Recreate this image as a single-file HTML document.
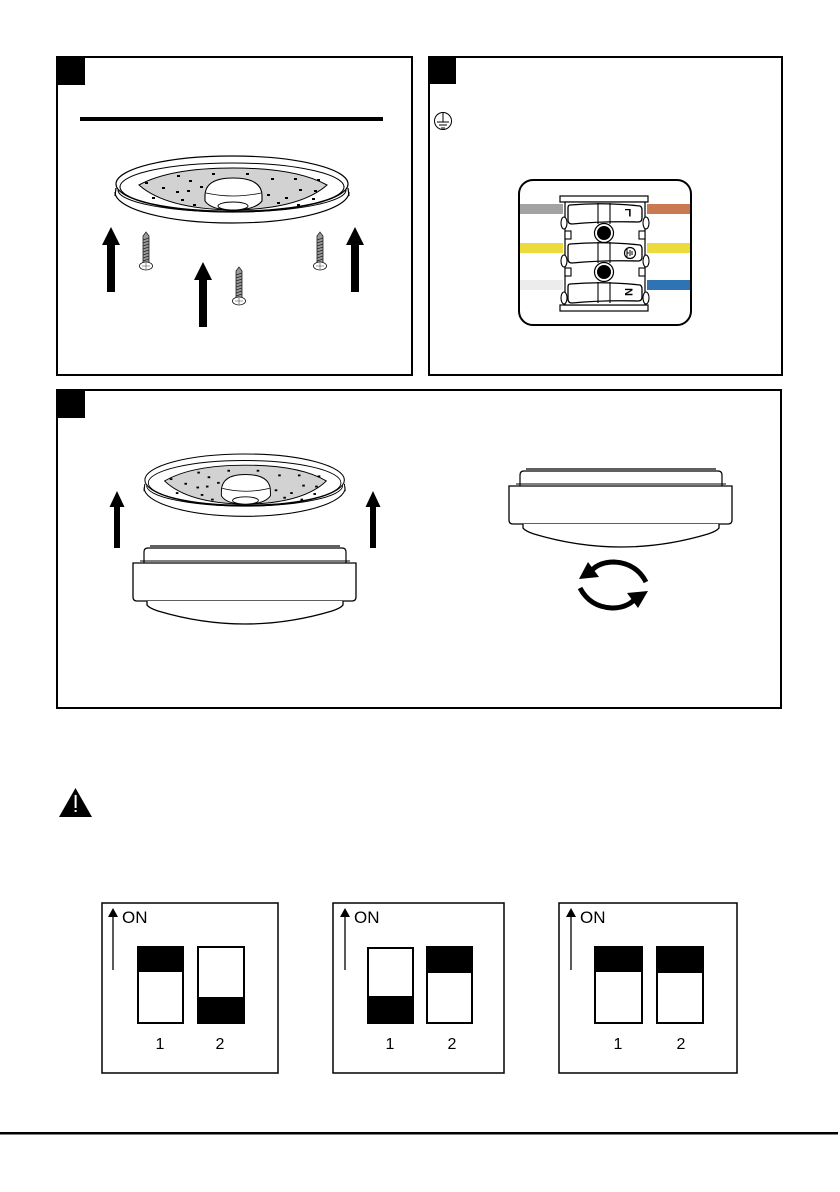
<!DOCTYPE html>
<html>
<head>
<meta charset="utf-8">
<style>
html,body{margin:0;padding:0;background:#fff;}
svg{display:block;}
text{font-family:"Liberation Sans",sans-serif;}
</style>
</head>
<body>
<svg width="840" height="1192" viewBox="0 0 840 1192" xmlns="http://www.w3.org/2000/svg">
<defs>
  <g id="disc">
    <!-- bottom outer rim -->
    <path d="M115,192 A117,31 0 0 0 349,192" fill="none" stroke="#000" stroke-width="1.2"/>
    <path d="M116,188 L115,196 M348,188 L349,196" stroke="#000" stroke-width="1.2"/>
    <!-- top rim ellipses -->
    <ellipse cx="232" cy="184" rx="116" ry="28" fill="#fff" stroke="#000" stroke-width="1.2"/>
    <ellipse cx="232" cy="187" rx="112" ry="24" fill="#fff" stroke="#000" stroke-width="1"/>
    <path d="M118,190 A114,22 0 0 0 346,190" fill="none" stroke="#000" stroke-width="1"/>
    <!-- gray plate -->
    <path d="M139,185 Q170,168 233,168 Q296,168 327,185 Q300,209 233,210 Q166,209 139,185 Z" fill="#d2d2d2" stroke="#000" stroke-width="1"/>
    <g fill="#000">
      <rect x="177" y="175" width="3" height="2"/><rect x="189" y="180" width="3" height="2"/>
      <rect x="212" y="173" width="3" height="2"/><rect x="246" y="173" width="3" height="2"/>
      <rect x="271" y="178" width="3" height="2"/><rect x="294" y="178" width="3" height="2"/>
      <rect x="317" y="179" width="3" height="2"/><rect x="145" y="182" width="3" height="2"/>
      <rect x="162" y="187" width="3" height="2"/><rect x="176" y="191" width="3" height="2"/>
      <rect x="187" y="190" width="3" height="2"/><rect x="152" y="197" width="3" height="2"/>
      <rect x="181" y="199" width="3" height="2"/><rect x="193" y="204" width="3" height="2"/>
      <rect x="267" y="194" width="3" height="2"/><rect x="277" y="202" width="3" height="2"/>
      <rect x="299" y="189" width="3" height="2"/><rect x="314" y="190" width="3" height="2"/>
      <rect x="285" y="197" width="3" height="2"/><rect x="297" y="204" width="3" height="2"/>
      <rect x="312" y="198" width="3" height="2"/><rect x="200" y="186" width="3" height="2"/>
    </g>
    <!-- dome -->
    <path d="M205,196 Q205,178 233,178 Q262,178 262,196 L262,201 Q255,210 233,210 Q211,210 205,201 Z" fill="#fff" stroke="#000" stroke-width="1.1"/>
    <path d="M206,193 Q233,199 261,193" fill="none" stroke="#000" stroke-width="0.8"/>
    <ellipse cx="233" cy="206" rx="15" ry="4" fill="#fff" stroke="#000" stroke-width="1"/>
  </g>
  <g id="screw">
    <path d="M-3,4 L0,0 L3,4 L3,31 L-3,31 Z" fill="#9a9a9a" stroke="#222" stroke-width="0.8"/>
    <g stroke="#222" stroke-width="0.7">
      <line x1="-3" y1="8" x2="3" y2="6"/><line x1="-3" y1="11" x2="3" y2="9"/>
      <line x1="-3" y1="14" x2="3" y2="12"/><line x1="-3" y1="17" x2="3" y2="15"/>
      <line x1="-3" y1="20" x2="3" y2="18"/><line x1="-3" y1="23" x2="3" y2="21"/>
      <line x1="-3" y1="26" x2="3" y2="24"/><line x1="-3" y1="29" x2="3" y2="27"/>
    </g>
    <ellipse cx="0" cy="34" rx="6.5" ry="4" fill="#fff" stroke="#000" stroke-width="0.8"/>
    <path d="M-4,34 L4,34 M0,31 L0,37" stroke="#444" stroke-width="0.6"/>
  </g>
  <g id="lamp">
    <line x1="150" y1="546" x2="340" y2="546" stroke="#000" stroke-width="1.2"/>
    <path d="M144,563 L144,552 Q144,548 148,548 L342,548 Q346,548 346,552 L346,563" fill="#fff" stroke="#000" stroke-width="1.2"/>
    <line x1="140" y1="561" x2="350" y2="561" stroke="#000" stroke-width="1"/>
    <path d="M133,563 L356,563 L356,597 Q356,601 352,601 L137,601 Q133,601 133,597 Z" fill="#fff" stroke="#000" stroke-width="1.3"/>
    <path d="M147,601 L147,605 Q149,608 158,611 Q245,637 332,611 Q341,608 343,605 L343,601" fill="#fff" stroke="#000" stroke-width="1.3"/>
  </g>
</defs>

<!-- Panel 1 -->
<rect x="57" y="57" width="355" height="318" fill="none" stroke="#000" stroke-width="2"/>
<rect x="57" y="57" width="28" height="28" fill="#000"/>
<rect x="80" y="117" width="303" height="4" fill="#000"/>
<use href="#disc"/>
<polygon points="111,227 120,245 115,245 115,292 107,292 107,245 102,245" fill="#000"/>
<polygon points="203,262 212,280 207,280 207,327 199,327 199,280 194,280" fill="#000"/>
<polygon points="355,227 364,245 359,245 359,292 351,292 351,245 346,245" fill="#000"/>
<use href="#screw" transform="translate(146,232)"/>
<use href="#screw" transform="translate(320,232)"/>
<use href="#screw" transform="translate(239,267)"/>

<!-- Panel 2 -->
<rect x="429" y="57" width="353" height="318" fill="none" stroke="#000" stroke-width="2"/>
<rect x="429" y="57" width="27" height="27" fill="#000"/>
<circle cx="443" cy="121" r="8.5" fill="#fff" stroke="#000" stroke-width="1"/>
<path d="M443,113 L443,122 M437,122 L449,122 M439,125 L447,125 M441,128 L445,128" stroke="#000" stroke-width="1"/>

<rect x="519" y="180" width="172" height="145" rx="14" fill="#fff" stroke="#000" stroke-width="2"/>
<rect x="520" y="204" width="43" height="10" fill="#a3a3a3"/>
<rect x="520" y="243" width="43" height="10" fill="#ecdb3c"/>
<rect x="520" y="280" width="43" height="10" fill="#ececec"/>
<rect x="647" y="204" width="43" height="10" fill="#c97a50"/>
<rect x="647" y="243" width="43" height="10" fill="#ecdb3c"/>
<rect x="647" y="280" width="43" height="10" fill="#2e74b5"/>
<!-- body -->
<rect x="560" y="196" width="88" height="6" fill="#fff" stroke="#000" stroke-width="1.2"/>
<rect x="560" y="305" width="88" height="6" fill="#fff" stroke="#000" stroke-width="1.2"/>
<rect x="565" y="202" width="80" height="103" fill="#fff" stroke="#000" stroke-width="1.2"/>
<g fill="#fff" stroke="#000" stroke-width="1.1">
  <ellipse cx="564" cy="223" rx="3" ry="6"/><ellipse cx="564" cy="261" rx="3" ry="6"/><ellipse cx="564" cy="298" rx="3" ry="6"/>
  <ellipse cx="646" cy="223" rx="3" ry="6"/><ellipse cx="646" cy="261" rx="3" ry="6"/><ellipse cx="646" cy="298" rx="3" ry="6"/>
  <rect x="565" y="231" width="6" height="8"/><rect x="565" y="268" width="6" height="8"/>
  <rect x="639" y="231" width="6" height="8"/><rect x="639" y="268" width="6" height="8"/>
</g>
<g fill="#fff" stroke="#000" stroke-width="1.3">
  <path d="M570,205 Q604,202 640,206 Q642,207 642,210 L642,218 Q642,222 638,222 Q604,221 572,224 Q568,224 568,220 L568,208 Q568,205 570,205 Z"/>
  <path d="M570,244 Q604,241 640,245 Q642,246 642,249 L642,257 Q642,261 638,261 Q604,260 572,263 Q568,263 568,259 L568,247 Q568,244 570,244 Z"/>
  <path d="M570,284 Q604,281 640,285 Q642,286 642,289 L642,297 Q642,301 638,301 Q604,300 572,303 Q568,303 568,299 L568,287 Q568,284 570,284 Z"/>
</g>
<g stroke="#000" stroke-width="1.1">
  <line x1="598" y1="203" x2="598" y2="224"/><line x1="610" y1="203" x2="610" y2="224"/>
  <line x1="598" y1="242" x2="598" y2="263"/><line x1="610" y1="242" x2="610" y2="263"/>
  <line x1="598" y1="282" x2="598" y2="303"/><line x1="610" y1="282" x2="610" y2="303"/>
</g>
<circle cx="604" cy="233" r="9.5" fill="#fff" stroke="#000" stroke-width="1.2"/>
<circle cx="604" cy="233" r="7" fill="#000"/>
<circle cx="604" cy="272" r="9.5" fill="#fff" stroke="#000" stroke-width="1.2"/>
<circle cx="604" cy="272" r="7" fill="#000"/>
<text x="628" y="212" font-size="11" font-weight="bold" text-anchor="middle" transform="rotate(180 628 212)" dominant-baseline="central">L</text>
<circle cx="630" cy="253" r="5.5" fill="#fff" stroke="#000" stroke-width="1.2"/>
<path d="M627,249 L627,257 M627,253 L629,253 M630,250 L630,256 M632,251 L632,255" stroke="#000" stroke-width="1"/>
<text x="628" y="292" font-size="11" font-weight="bold" text-anchor="middle" transform="rotate(90 628 292)" dominant-baseline="central">N</text>

<!-- Panel 3 -->
<rect x="57" y="390" width="724" height="318" fill="none" stroke="#000" stroke-width="2"/>
<rect x="57" y="390" width="28" height="28" fill="#000"/>
<use href="#disc" transform="translate(144,454) scale(0.86,0.93) translate(-115,-156)"/>
<polygon points="117,491 124.5,507 120,507 120,548 114,548 114,507 109.5,507" fill="#000"/>
<polygon points="373,491 380.5,507 376,507 376,548 370,548 370,507 365.5,507" fill="#000"/>
<use href="#lamp"/>
<use href="#lamp" transform="translate(376,-77)"/>
<!-- rotation arrows -->
<path d="M646,582 Q636,563 614,562 Q600,562 592,570" fill="none" stroke="#000" stroke-width="5"/>
<polygon points="579,579 588,562 599,577" fill="#000"/>
<path d="M580,588 Q590,607 612,608 Q626,608 634,600" fill="none" stroke="#000" stroke-width="5"/>
<polygon points="648,591 638,608 627,593" fill="#000"/>

<!-- Warning triangle -->
<polygon points="59,817 75.5,788 92,817" fill="#000"/>
<rect x="74.6" y="795" width="2" height="13" fill="#fff"/>
<rect x="74.6" y="810" width="2" height="2" fill="#fff"/>

<!-- DIP box 1 -->
<rect x="102" y="903" width="176" height="170" fill="#fff" stroke="#000" stroke-width="1.5"/>
<line x1="113" y1="914" x2="113" y2="970" stroke="#000" stroke-width="1.3"/>
<polygon points="108,917 113,908 118,917" fill="#000"/>
<text x="122" y="923" font-size="17">ON</text>
<rect x="138" y="947" width="45" height="76" fill="#fff" stroke="#000" stroke-width="2"/>
<rect x="138" y="947" width="45" height="25" fill="#000"/>
<rect x="198" y="947" width="46" height="76" fill="#fff" stroke="#000" stroke-width="2"/>
<rect x="198" y="997" width="46" height="26" fill="#000"/>
<text x="160" y="1049" font-size="16" text-anchor="middle">1</text>
<text x="220" y="1049" font-size="16" text-anchor="middle">2</text>

<!-- DIP box 2 -->
<rect x="333" y="903" width="171" height="170" fill="#fff" stroke="#000" stroke-width="1.5"/>
<line x1="345" y1="914" x2="345" y2="970" stroke="#000" stroke-width="1.3"/>
<polygon points="340,917 345,908 350,917" fill="#000"/>
<text x="354" y="923" font-size="17">ON</text>
<rect x="368" y="948" width="45" height="75" fill="#fff" stroke="#000" stroke-width="2"/>
<rect x="368" y="996" width="45" height="27" fill="#000"/>
<rect x="427" y="947" width="45" height="76" fill="#fff" stroke="#000" stroke-width="2"/>
<rect x="427" y="947" width="45" height="26" fill="#000"/>
<text x="390" y="1049" font-size="16" text-anchor="middle">1</text>
<text x="452" y="1049" font-size="16" text-anchor="middle">2</text>

<!-- DIP box 3 -->
<rect x="559" y="903" width="178" height="170" fill="#fff" stroke="#000" stroke-width="1.5"/>
<line x1="571" y1="914" x2="571" y2="970" stroke="#000" stroke-width="1.3"/>
<polygon points="566,917 571,908 576,917" fill="#000"/>
<text x="580" y="923" font-size="17">ON</text>
<rect x="595" y="947" width="47" height="76" fill="#fff" stroke="#000" stroke-width="2"/>
<rect x="595" y="947" width="47" height="25" fill="#000"/>
<rect x="657" y="947" width="46" height="76" fill="#fff" stroke="#000" stroke-width="2"/>
<rect x="657" y="947" width="46" height="26" fill="#000"/>
<text x="618" y="1049" font-size="16" text-anchor="middle">1</text>
<text x="681" y="1049" font-size="16" text-anchor="middle">2</text>

<!-- Footer line -->
<rect x="0" y="1132" width="838" height="2.5" fill="#000"/>
</svg>
</body>
</html>
